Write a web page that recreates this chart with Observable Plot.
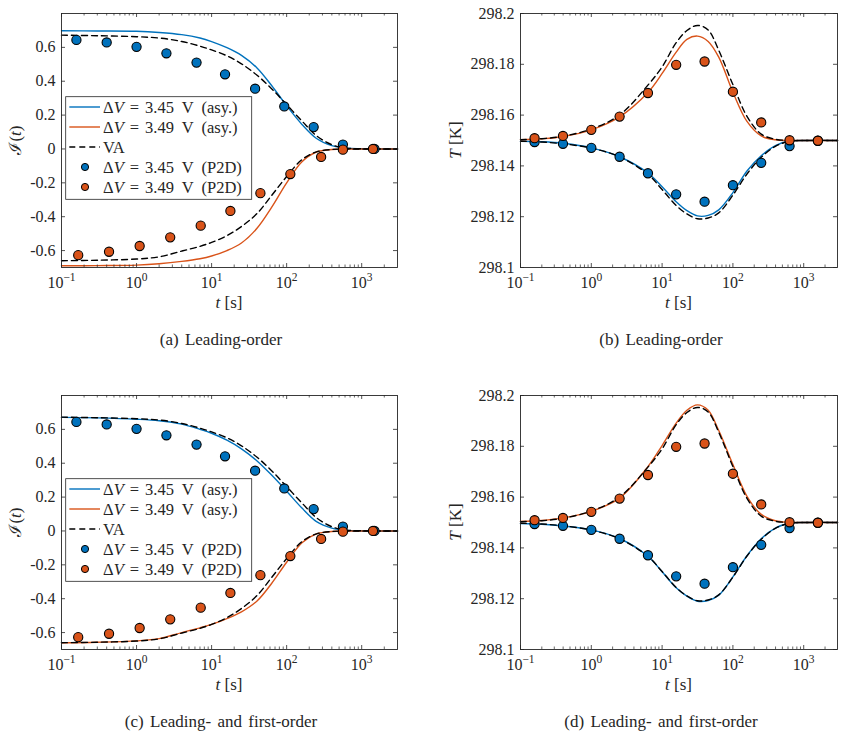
<!DOCTYPE html>
<html>
<head>
<meta charset="utf-8">
<script src="https://cdn.jsdelivr.net/npm/d3@7"></script>
<script src="https://cdn.jsdelivr.net/npm/@observablehq/plot@0.6"></script>
<style>
  body { margin: 0; background: #fff; }
  #fig { position: relative; width: 844px; height: 737px; font-family: "Liberation Serif", serif; color: #262626; }
  .panel { position: absolute; }
  .cap { position: absolute; font-size: 17px; transform: translateX(-50%); white-space: nowrap; line-height: 18px; word-spacing: 2px; }
</style>
</head>
<body>
<div id="fig"></div>
<script>
// ---- current I(t): model curves tabulated on a common time grid (s) ----
const tCurveI = [0.1, 0.3, 1, 2, 4, 7, 10, 16, 25, 40, 63, 100, 160, 250, 400, 630, 1000, 3000];
const iLead345 = [0.698, 0.697, 0.695, 0.688, 0.675, 0.655, 0.634, 0.598, 0.553, 0.48, 0.375, 0.255, 0.145, 0.062, 0.02, 0.004, 0.001, 0];
const iLead349 = [-0.69, -0.689, -0.686, -0.678, -0.664, -0.648, -0.632, -0.6, -0.555, -0.47, -0.345, -0.2, -0.075, -0.018, -0.003, 0, 0, 0];
const iFirst345 = [0.671, 0.668, 0.66, 0.651, 0.631, 0.6, 0.577, 0.536, 0.485, 0.415, 0.33, 0.235, 0.135, 0.055, 0.017, 0.003, 0, 0];
const iFirst349 = [-0.66, -0.657, -0.649, -0.636, -0.6, -0.572, -0.552, -0.518, -0.478, -0.415, -0.31, -0.185, -0.07, -0.017, -0.003, 0, 0, 0];
const iVA345 = [0.672, 0.669, 0.663, 0.655, 0.635, 0.607, 0.585, 0.55, 0.503, 0.437, 0.356, 0.262, 0.165, 0.078, 0.025, 0.005, 0.001, 0];
const iVA349 = [-0.66, -0.657, -0.65, -0.637, -0.603, -0.575, -0.552, -0.512, -0.458, -0.383, -0.275, -0.163, -0.063, -0.017, -0.003, 0, 0, 0];

// ---- current I(t): P2D simulation samples ----
const tP2D345 = [0.158, 0.4, 1.0, 2.5, 6.3, 15.1, 38, 93, 229, 562, 1480];
const iP2D345 = [0.644, 0.629, 0.603, 0.565, 0.510, 0.441, 0.356, 0.251, 0.129, 0.026, 0.0];
const tP2D349 = [0.167, 0.43, 1.1, 2.81, 7.16, 17.8, 44.7, 112, 288, 562, 1413];
const iP2D349 = [-0.627, -0.607, -0.573, -0.522, -0.453, -0.366, -0.261, -0.148, -0.047, -0.004, 0.0];

// ---- temperature T (K): model curves ----
const tCurveT = [0.1, 0.2, 0.4, 1, 2.5, 6.3, 10, 15.8, 22.4, 31.6, 44.7, 63.1, 100, 158, 251, 398, 631, 1000, 3000];
const TLead345 = [298.1497, 298.1495, 298.1489, 298.1471, 298.1436, 298.1372, 298.1318, 298.1259, 298.1224, 298.1203, 298.1205, 298.1227, 298.1295, 298.138, 298.144, 298.148, 298.1498, 298.15, 298.15];
const TLead349 = [298.1503, 298.1507, 298.1516, 298.1542, 298.1593, 298.1689, 298.1764, 298.1848, 298.1898, 298.1911, 298.189, 298.1828, 298.169, 298.1575, 298.1518, 298.1503, 298.15, 298.15, 298.15];
const TFirst345 = [298.1496, 298.1493, 298.1486, 298.1471, 298.1437, 298.1367, 298.1306, 298.1243, 298.121, 298.119, 298.1193, 298.1214, 298.1286, 298.1369, 298.1436, 298.1478, 298.1497, 298.15, 298.15];
const TFirst349 = [298.1504, 298.1508, 298.1518, 298.1544, 298.1596, 298.172, 298.1803, 298.1891, 298.1942, 298.1963, 298.1942, 298.1862, 298.1728, 298.1603, 298.1532, 298.1507, 298.1501, 298.15, 298.15];
const TVA345 = [298.1497, 298.1494, 298.1487, 298.147, 298.1436, 298.1367, 298.1307, 298.1244, 298.1211, 298.1192, 298.1195, 298.1215, 298.1285, 298.1368, 298.1434, 298.1477, 298.1497, 298.15, 298.15];
const TVA349 = [298.1503, 298.1507, 298.1517, 298.1545, 298.16, 298.1718, 298.179, 298.1885, 298.1933, 298.1953, 298.1935, 298.1855, 298.172, 298.1595, 298.1525, 298.1505, 298.15, 298.15, 298.15];

// ---- temperature T (K): P2D simulation samples ----
const tP2DT = [0.158, 0.398, 1, 2.51, 6.31, 15.8, 39.8, 100, 251, 631, 1585];
const TP2D345 = [298.1494, 298.1487, 298.1471, 298.1436, 298.1371, 298.1288, 298.1259, 298.1324, 298.1412, 298.1478, 298.1499];
const TP2D349 = [298.1509, 298.1518, 298.1542, 298.1594, 298.1687, 298.1798, 298.1811, 298.1692, 298.1571, 298.1501, 298.1499];

// ---- axes ----
const xTicks = [0.1, 1, 10, 100, 1000];
const xTickExp = ["\u22121", "0", "1", "2", "3"];
const iTicks = [-0.6, -0.4, -0.2, 0, 0.2, 0.4, 0.6];
const iTickLabels = ["-0.6", "-0.4", "-0.2", "0", "0.2", "0.4", "0.6"];
const TTicks = [298.1, 298.12, 298.14, 298.16, 298.18, 298.2];
const TTickLabels = ["298.1", "298.12", "298.14", "298.16", "298.18", "298.2"];
const captions = ["(a) Leading-order", "(b) Leading-order", "(c) Leading- and first-order", "(d) Leading- and first-order"];

const BLUE = "#0072BD", ORANGE = "#D95319", INK = "#262626";
const SERIF = "'Liberation Serif', serif";
const rows = (t, v) => t.map((x, i) => ({t: x, v: v[i]}));

// minor log ticks inside each decade
const minorX = [];
for (const base of [0.1, 1, 10, 100, 1000]) for (let k = 2; k <= 9; k++) if (base * k < 3000) minorX.push(base * k);

const H = 320, MT = 13, MB = 53;
const fig = document.getElementById("fig");

function panel({left, top, width, ml, mr, yDomain, yTicks, yLabels, asy345, asy349, va345, va349, tc, p345, p349, yLabel, legend}) {
  const iw = width - ml - mr, ih = H - MT - MB;
  const lineOpts = {x: "t", y: "v", strokeWidth: 1.4, curve: "catmull-rom"};
  const chart = Plot.plot({
    width, height: H, marginLeft: ml, marginRight: mr, marginTop: MT, marginBottom: MB,
    x: {type: "log", domain: [0.1, 3000]},
    y: {domain: yDomain},
    style: {fontFamily: SERIF, fontSize: "16px", color: INK, background: "transparent", overflow: "visible"},
    marks: [
      Plot.line(rows(tc, asy345), {...lineOpts, stroke: BLUE}),
      Plot.line(rows(tc, asy349), {...lineOpts, stroke: ORANGE}),
      Plot.line(rows(tc, va345), {...lineOpts, stroke: "black", strokeDasharray: "6,4"}),
      Plot.line(rows(tc, va349), {...lineOpts, stroke: "black", strokeDasharray: "6,4"}),
      Plot.dot(rows(p345.t, p345.v), {x: "t", y: "v", r: 4.6, fill: BLUE, stroke: "black", strokeWidth: 1.1}),
      Plot.dot(rows(p349.t, p349.v), {x: "t", y: "v", r: 4.6, fill: ORANGE, stroke: "black", strokeWidth: 1.1}),
      // inward ticks on all four sides
      Plot.tickX(xTicks, {x: d => d, insetTop: ih - 4, stroke: INK, strokeWidth: 0.8}),
      Plot.tickX(xTicks, {x: d => d, insetBottom: ih - 4, stroke: INK, strokeWidth: 0.8}),
      Plot.tickX(minorX, {x: d => d, insetTop: ih - 2.5, stroke: INK, strokeWidth: 0.7}),
      Plot.tickX(minorX, {x: d => d, insetBottom: ih - 2.5, stroke: INK, strokeWidth: 0.7}),
      Plot.tickY(yTicks, {y: d => d, insetRight: iw - 4, stroke: INK, strokeWidth: 0.8}),
      Plot.tickY(yTicks, {y: d => d, insetLeft: iw - 4, stroke: INK, strokeWidth: 0.8}),
      Plot.frame({stroke: INK, strokeWidth: 0.9}),
      Plot.axisX(xTicks, {anchor: "bottom", tickSize: 0, tickPadding: 9, label: null, fill: INK,
        tickFormat: d => "10^" + xTickExp[xTicks.indexOf(d)]}),
      Plot.axisY(yTicks, {anchor: "left", tickSize: 0, tickPadding: 6, label: null, fill: INK,
        tickFormat: d => yLabels[yTicks.indexOf(d)]})
    ]
  });
  const svg = d3.select(chart);
  // powers of ten with superscript exponents
  svg.selectAll('g[aria-label="x-axis tick label"] text').each(function () {
    const s = this.textContent;
    if (!s.startsWith("10^")) return;
    const el = d3.select(this);
    el.text("10");
    el.append("tspan").attr("dy", "-7").attr("font-size", "11.5px").text(s.slice(3));
  });
  // axis titles
  const cx = ml + iw / 2;
  const xl = svg.append("text").attr("x", cx).attr("y", MT + ih + 41).attr("text-anchor", "middle")
    .attr("fill", INK).attr("font-size", "17px");
  xl.append("tspan").attr("font-style", "italic").text("t");
  xl.append("tspan").text(" [s]");
  const yl = svg.append("text").attr("transform", `translate(${yLabel.x},${MT + ih / 2}) rotate(-90)`)
    .attr("text-anchor", "middle").attr("fill", INK).attr("font-size", "17px");
  yLabel.parts.forEach(([txt, it]) => yl.append("tspan").attr("font-style", it ? "italic" : null).text(txt));
  if (legend) drawLegend(svg);
  svg.style("font-family", SERIF);
  svg.selectAll("text").style("font-family", SERIF);
  const wrap = document.createElement("div");
  wrap.className = "panel";
  wrap.style.left = left + "px";
  wrap.style.top = top + "px";
  wrap.appendChild(chart);
  fig.appendChild(wrap);
}

function drawLegend(svg) {
  const g = svg.append("g").attr("font-size", "16.5px").attr("fill", INK).attr("text-anchor", "start");
  g.append("rect").attr("x", 65.7).attr("y", 96.7).attr("width", 186).attr("height", 102.6)
    .attr("fill", "white").attr("stroke", INK).attr("stroke-width", 0.8);
  const entries = [
    {kind: "line", color: BLUE, v: "3.45", tag: "(asy.)"},
    {kind: "line", color: ORANGE, v: "3.49", tag: "(asy.)"},
    {kind: "dash"},
    {kind: "dot", color: BLUE, v: "3.45", tag: "(P2D)"},
    {kind: "dot", color: ORANGE, v: "3.49", tag: "(P2D)"}
  ];
  entries.forEach((e, i) => {
    const y = 107 + 20 * i;
    if (e.kind === "line" || e.kind === "dash") {
      g.append("line").attr("x1", 69.3).attr("x2", 100).attr("y1", y).attr("y2", y)
        .attr("stroke", e.kind === "dash" ? "black" : e.color).attr("stroke-width", 1.4)
        .attr("stroke-dasharray", e.kind === "dash" ? "6,4" : null);
    } else {
      g.append("circle").attr("cx", 85).attr("cy", y).attr("r", 3.6)
        .attr("fill", e.color).attr("stroke", "black").attr("stroke-width", 1);
    }
    const t = g.append("text").attr("x", 103).attr("y", y).attr("dy", "0.35em")
      .attr("text-anchor", "start").style("word-spacing", "4px");
    if (e.kind === "dash") { t.text("VA"); return; }
    t.append("tspan").text("\u0394");
    t.append("tspan").attr("font-style", "italic").text("V");
    t.append("tspan").attr("dx", 6).text("=");
    t.append("tspan").attr("dx", 6).text(`${e.v} V ${e.tag}`);
  });
}

const IPanel = {width: 420, ml: 61, mr: 23, yDomain: [-0.7, 0.8], yTicks: iTicks, yLabels: iTickLabels, tc: tCurveI,
  p345: {t: tP2D345, v: iP2D345}, p349: {t: tP2D349, v: iP2D349}, va345: iVA345, va349: iVA349,
  yLabel: {x: 21, parts: [["\u2110(", false], ["t", true], [")", false]]}, legend: true};
const TPanel = {width: 424, ml: 100, mr: 7, yDomain: [298.1, 298.2], yTicks: TTicks, yLabels: TTickLabels, tc: tCurveT,
  p345: {t: tP2DT, v: TP2D345}, p349: {t: tP2DT, v: TP2D349}, va345: TVA345, va349: TVA349,
  yLabel: {x: 41, parts: [["T", true], [" [K]", false]]}, legend: false};

panel({...IPanel, left: 0, top: 0, asy345: iLead345, asy349: iLead349});
panel({...TPanel, left: 420, top: 0, asy345: TLead345, asy349: TLead349});
panel({...IPanel, left: 0, top: 382, asy345: iFirst345, asy349: iFirst349});
panel({...TPanel, left: 420, top: 382, asy345: TFirst345, asy349: TFirst349});

// sub-figure captions
[[221, 331], [661, 331], [221, 713], [661, 713]].forEach(([x, y], i) => {
  const d = document.createElement("div");
  d.className = "cap";
  d.style.left = x + "px";
  d.style.top = y + "px";
  d.textContent = captions[i];
  fig.appendChild(d);
});
</script>
</body>
</html>
